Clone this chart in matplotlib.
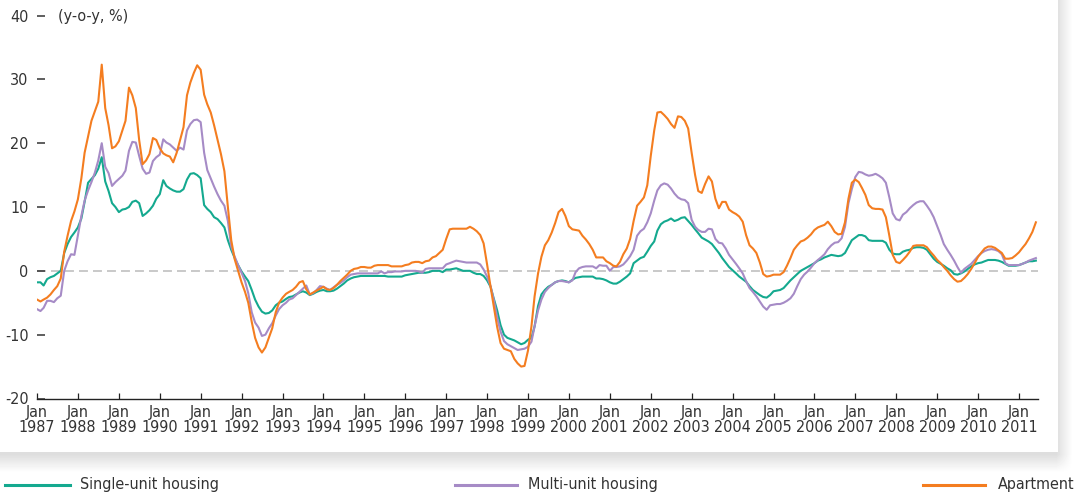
import numpy as np
import pandas as pd
import matplotlib
matplotlib.use("Agg")
import matplotlib.pyplot as plt
import matplotlib.dates as mdates
from matplotlib.lines import Line2D

plt.rcParams["font.family"] = ["DejaVu Sans"]
plt.rcParams["font.stretch"] = "condensed"

# monthly y-o-y % changes, Jan 1987 - Jun 2011
single_unit = [
    -1.8, -1.8, -2.3, -1.3, -1.0, -0.8, -0.4, 0.0, 2.8, 4.2, 5.3, 6.0,        # 1987
    6.8, 8.2, 10.8, 13.8, 14.4, 15.0, 16.0, 17.8, 14.0, 12.5, 10.6, 10.0,     # 1988
    9.2, 9.6, 9.7, 10.0, 10.8, 11.0, 10.6, 8.6, 9.0, 9.5, 10.2, 11.3,         # 1989
    12.0, 14.2, 13.3, 12.9, 12.6, 12.4, 12.4, 12.8, 14.3, 15.2, 15.3, 15.0,   # 1990
    14.5, 10.3, 9.7, 9.2, 8.4, 8.1, 7.5, 6.8, 4.8, 3.3, 2.0, 0.9,             # 1991
    -0.1, -0.9, -1.6, -3.0, -4.5, -5.6, -6.4, -6.7, -6.6, -6.2, -5.4, -5.0,   # 1992
    -4.8, -4.4, -4.1, -4.0, -3.7, -3.4, -3.2, -3.4, -3.8, -3.6, -3.3, -3.1,   # 1993
    -3.0, -3.2, -3.2, -3.1, -2.8, -2.4, -2.0, -1.5, -1.2, -1.0, -0.9, -0.8,   # 1994
    -0.8, -0.8, -0.8, -0.8, -0.8, -0.8, -0.8, -0.9, -0.9, -0.9, -0.9, -0.9,   # 1995
    -0.7, -0.6, -0.5, -0.4, -0.3, -0.3, -0.3, -0.2, 0.0, 0.0, 0.0, -0.2,      # 1996
    0.2, 0.2, 0.3, 0.4, 0.2, 0.0, 0.0, 0.0, -0.3, -0.5, -0.5, -0.8,           # 1997
    -1.5, -2.5, -4.3, -6.2, -8.5, -10.0, -10.5, -10.7, -10.9, -11.2, -11.5, -11.3,  # 1998
    -10.8, -10.5, -8.7, -5.5, -3.7, -3.0, -2.5, -2.2, -1.8, -1.6, -1.5, -1.6,  # 1999
    -1.8, -1.4, -1.1, -1.0, -0.9, -0.9, -0.9, -0.9, -1.2, -1.2, -1.3, -1.5,   # 2000
    -1.8, -2.0, -2.0, -1.7, -1.3, -0.9, -0.4, 1.2, 1.6, 2.0, 2.2, 3.0,        # 2001
    3.9, 4.6, 6.3, 7.3, 7.7, 7.9, 8.2, 7.8, 8.0, 8.3, 8.4, 7.8,               # 2002
    7.2, 6.5, 5.9, 5.2, 4.9, 4.6, 4.2, 3.5, 2.8, 2.0, 1.3, 0.6,               # 2003
    0.1, -0.4, -0.9, -1.3, -1.7, -2.4, -3.0, -3.4, -3.8, -4.1, -4.2, -3.8,    # 2004
    -3.2, -3.1, -3.0, -2.7, -2.1, -1.5, -1.0, -0.5, 0.0, 0.3, 0.6, 0.9,       # 2005
    1.2, 1.6, 1.8, 2.1, 2.3, 2.5, 2.4, 2.3, 2.4, 2.8, 3.8, 4.8,               # 2006
    5.2, 5.6, 5.6, 5.4, 4.8, 4.7, 4.7, 4.7, 4.7, 4.4, 3.3, 2.7,               # 2007
    2.6, 2.6, 3.0, 3.2, 3.3, 3.6, 3.7, 3.7, 3.6, 3.3, 2.6, 1.9,               # 2008
    1.4, 1.1, 0.8, 0.4, 0.1, -0.5, -0.6, -0.4, -0.1, 0.3, 0.7, 1.0,           # 2009
    1.2, 1.3, 1.5, 1.7, 1.7, 1.7, 1.6, 1.4, 1.1, 0.8, 0.8, 0.8,               # 2010
    0.9, 1.1, 1.3, 1.5, 1.5, 1.6,                                             # 2011
]
multi_unit = [
    -6.0, -6.3, -5.8, -4.7, -4.7, -4.9, -4.3, -3.9, 0.0, 1.5, 2.6, 2.5,
    5.6, 8.6, 11.0, 12.6, 13.9, 15.4, 17.3, 20.0, 16.3, 15.3, 13.3, 13.9,
    14.4, 14.9, 15.7, 18.8, 20.2, 20.1, 18.0, 16.0, 15.2, 15.4, 17.2, 17.8,
    18.2, 20.6, 20.1, 19.8, 19.3, 18.8, 19.3, 19.0, 22.0, 23.0, 23.6, 23.7,
    23.3, 18.5, 15.8, 14.5, 13.2, 12.0, 11.0, 10.2, 7.8, 3.8, 2.2, 0.9,
    -0.3, -1.6, -3.5, -6.5, -8.1, -8.9, -10.2, -10.0, -9.0, -8.2, -7.0, -6.0,
    -5.4, -5.0, -4.5, -4.3, -3.8, -3.3, -2.8, -2.3, -3.7, -3.5, -3.0, -2.4,
    -2.5, -2.8, -3.0, -2.6, -2.2, -1.9, -1.5, -1.0, -0.6, -0.5, -0.4, -0.4,
    -0.4, -0.4, -0.4, -0.4, -0.4, -0.1, -0.4, -0.2, -0.2, -0.1, -0.1, -0.1,
    0.0, 0.0, 0.0, 0.0, -0.1, -0.3, 0.3, 0.4, 0.4, 0.4, 0.4, 0.4,
    1.0, 1.2, 1.4, 1.6, 1.5, 1.4, 1.3, 1.3, 1.3, 1.3, 1.0, 0.2,
    -0.9, -2.4, -4.5, -7.3, -9.5, -11.0, -11.5, -11.8, -12.1, -12.4, -12.3, -12.2,
    -11.9, -11.1, -8.7, -6.2, -4.5, -3.3, -2.7, -2.2, -1.8, -1.6, -1.6, -1.7,
    -1.8, -1.5, -0.2, 0.4, 0.6, 0.7, 0.7, 0.7, 0.4, 0.9, 0.8, 0.8,
    0.0, 0.6, 0.6, 0.7, 1.0, 1.6, 2.3, 3.3, 5.5, 6.2, 6.6, 7.6,
    9.0, 11.0, 12.6, 13.4, 13.7, 13.5, 12.9, 12.1, 11.5, 11.2, 11.1, 10.6,
    8.0, 6.9, 6.4, 6.1, 6.1, 6.6, 6.5, 5.0, 4.4, 4.3, 3.5, 2.5,
    1.8, 1.1, 0.4, -0.4, -1.6, -2.7, -3.3, -4.0, -4.8, -5.6, -6.1, -5.4,
    -5.3, -5.2, -5.2, -5.0, -4.7, -4.3, -3.6, -2.4, -1.3, -0.6, -0.1, 0.5,
    1.2, 1.7, 2.1, 2.6, 3.4, 4.0, 4.4, 4.5, 5.1, 6.9, 10.6, 12.8,
    14.7, 15.5, 15.4, 15.1, 14.9, 15.0, 15.2, 14.9, 14.5, 13.8, 11.5, 9.0,
    8.1, 7.9, 8.8, 9.2, 9.8, 10.3, 10.7, 10.9, 10.9, 10.2, 9.4, 8.4,
    7.0, 5.6, 4.2, 3.3, 2.5, 1.6, 0.6, -0.3, 0.3, 0.7, 1.1, 1.7,
    2.3, 2.8, 3.1, 3.3, 3.4, 3.3, 3.1, 2.6, 1.2, 0.9, 0.9, 0.9,
    0.9, 1.1, 1.3, 1.6, 1.8, 2.0,
]
apartment = [
    -4.5, -4.8, -4.5, -4.2, -3.7, -3.0, -2.4, -1.2, 3.0, 5.5, 7.8, 9.3,
    11.2, 14.5, 18.5, 21.0, 23.5, 25.0, 26.5, 32.3, 25.5, 22.8, 19.2, 19.5,
    20.3, 22.0, 23.5, 28.7, 27.5, 25.5, 20.5, 16.7, 17.3, 18.3, 20.8, 20.5,
    19.2, 18.4, 18.1, 17.9, 17.0, 18.5, 20.5, 22.5, 27.5, 29.5, 31.0, 32.2,
    31.5, 27.6, 26.1, 24.8, 22.8, 20.5, 18.3, 15.6, 10.0, 4.8, 1.8, 0.0,
    -1.8, -3.3, -5.0, -8.0, -10.5, -12.0, -12.8, -12.0, -10.5, -9.0, -6.5, -5.0,
    -4.2, -3.6, -3.3, -3.0, -2.5, -1.8, -1.6, -2.9, -3.7, -3.4, -3.1, -2.8,
    -2.5, -2.9, -3.0, -2.7, -2.2, -1.6, -1.1, -0.6, 0.0, 0.3, 0.4, 0.6,
    0.6, 0.5, 0.5, 0.8, 0.9, 0.9, 0.9, 0.9, 0.7, 0.7, 0.7, 0.7,
    0.9, 1.0, 1.3, 1.4, 1.4, 1.2, 1.5, 1.6, 2.1, 2.3, 2.8, 3.3,
    5.0, 6.5, 6.6, 6.6, 6.6, 6.6, 6.6, 6.9, 6.6, 6.2, 5.6, 4.3,
    1.0, -2.5, -5.5, -8.8, -11.3, -12.2, -12.4, -12.6, -13.8, -14.5, -15.0, -14.9,
    -12.5, -8.7, -4.0, -0.4, 2.2, 4.0, 4.8, 6.0, 7.5, 9.2, 9.7, 8.6,
    7.0, 6.5, 6.4, 6.3, 5.5, 4.9, 4.2, 3.3, 2.1, 2.1, 2.1, 1.5,
    1.2, 0.8, 0.7, 1.4, 2.6, 3.5, 5.0, 7.8, 10.2, 10.8, 11.5, 13.4,
    18.0, 22.0, 24.8, 24.9, 24.4, 23.8, 23.0, 22.4, 24.2, 24.1, 23.5, 22.3,
    18.5, 15.0, 12.5, 12.2, 13.6, 14.8, 14.0, 11.3, 9.8, 10.8, 10.8, 9.6,
    9.2, 8.9, 8.5, 7.7, 5.6, 4.0, 3.5, 2.8, 1.3, -0.5, -0.9, -0.8,
    -0.6, -0.6, -0.6, -0.2, 0.8, 2.0, 3.3, 4.0, 4.6, 4.8, 5.2, 5.7,
    6.4, 6.8, 7.0, 7.2, 7.7, 7.0, 6.1, 5.7, 5.8, 7.6, 11.3, 13.8,
    14.3, 13.9, 13.0, 11.9, 10.3, 9.8, 9.7, 9.7, 9.6, 8.4, 5.5, 2.5,
    1.4, 1.2, 1.7, 2.3, 3.0, 3.9, 4.0, 4.0, 4.0, 3.7, 3.0, 2.4,
    1.7, 1.2, 0.6, 0.0, -0.7, -1.3, -1.7, -1.6, -1.1, -0.5, 0.3, 1.2,
    2.2, 2.9, 3.5, 3.8, 3.8, 3.6, 3.2, 2.8, 1.9, 1.9, 2.0, 2.4,
    2.9, 3.6, 4.2, 5.1, 6.1, 7.6,
]

series_names = ["Single-unit housing", "Multi-unit housing", "Apartment"]
series_colors = ["#14a98f", "#a68bc6", "#f47d20"]
y_ticks = [-20, -10, 0, 10, 20, 30, 40]
years = list(range(1987, 2012))

W, H = 1079, 499
months = pd.date_range("1987-01-01", periods=len(single_unit), freq="MS")

fig = plt.figure(figsize=(W / 100, H / 100), dpi=100)

# soft drop shadow around the white panel
bg = fig.add_axes([0, 0, 1, 1], zorder=0)
bg.axis("off")
xx = np.arange(W)[None, :]
yy = np.arange(H)[:, None]
sx = np.clip((1072 - xx) / 16.0, 0, 1)
sy = np.clip((472 - yy) / 18.0, 0, 1)
shade = 1 - 0.13 * sx * sy
panel = (xx < 1058) & (yy < 452)
shade = np.where(panel, 1.0, shade)
bg.imshow(shade, cmap="gray", vmin=0, vmax=1, extent=[0, W, H, 0],
          aspect="auto", interpolation="bilinear")
bg.set_xlim(0, W)
bg.set_ylim(H, 0)

ax = fig.add_axes([37 / W, 1 - 398.5 / H, (1038 - 37) / W, (398.5 - 15.5) / H],
                  zorder=2)
ax.patch.set_alpha(0)

ax.axhline(0, color="#c9c9c9", lw=1.4, dashes=(4.6, 2.6), zorder=1)
for vals, c in zip([single_unit, multi_unit, apartment], series_colors):
    ax.plot(months, vals, color=c, lw=1.5, zorder=3)

ax.set_xlim(mdates.date2num(pd.Timestamp("1987-01-01")),
            mdates.date2num(pd.Timestamp("2011-06-20")))
ax.set_ylim(-20, 40)

ax.set_xticks([pd.Timestamp(f"{y}-01-01") for y in years])
ax.set_xticklabels([f"Jan\n{y}" for y in years], fontsize=11.5,
                   color="#333333", linespacing=1.0)
ax.set_yticks(y_ticks)
ax.set_yticklabels([str(v) for v in y_ticks], fontsize=11.5, color="#333333")
ax.tick_params(axis="x", direction="in", length=4, width=0.9, pad=5,
               color="#222222")
ax.tick_params(axis="y", direction="in", length=6, width=1.1, pad=6,
               color="#333333")
for s in ["top", "right", "left"]:
    ax.spines[s].set_visible(False)
ax.spines["bottom"].set_color("#222222")
ax.spines["bottom"].set_linewidth(1.0)

fig.text(58 / W, 1 - 17 / H, "(y-o-y, %)", fontsize=11.5, color="#333333",
         va="center", ha="left")

# legend along the bottom
legend_x = [(5, 70, 80), (455, 517, 528), (923, 985, 998)]
for (x0, x1, xt), name, c in zip(legend_x, series_names, series_colors):
    yl = 1 - 485 / H
    fig.add_artist(Line2D([x0 / W, x1 / W], [yl, yl], color=c, lw=2.2,
                          transform=fig.transFigure))
    fig.text(xt / W, yl, name, fontsize=11.5, color="#333333", va="center",
             ha="left")

fig.savefig("out.png", dpi=100)
